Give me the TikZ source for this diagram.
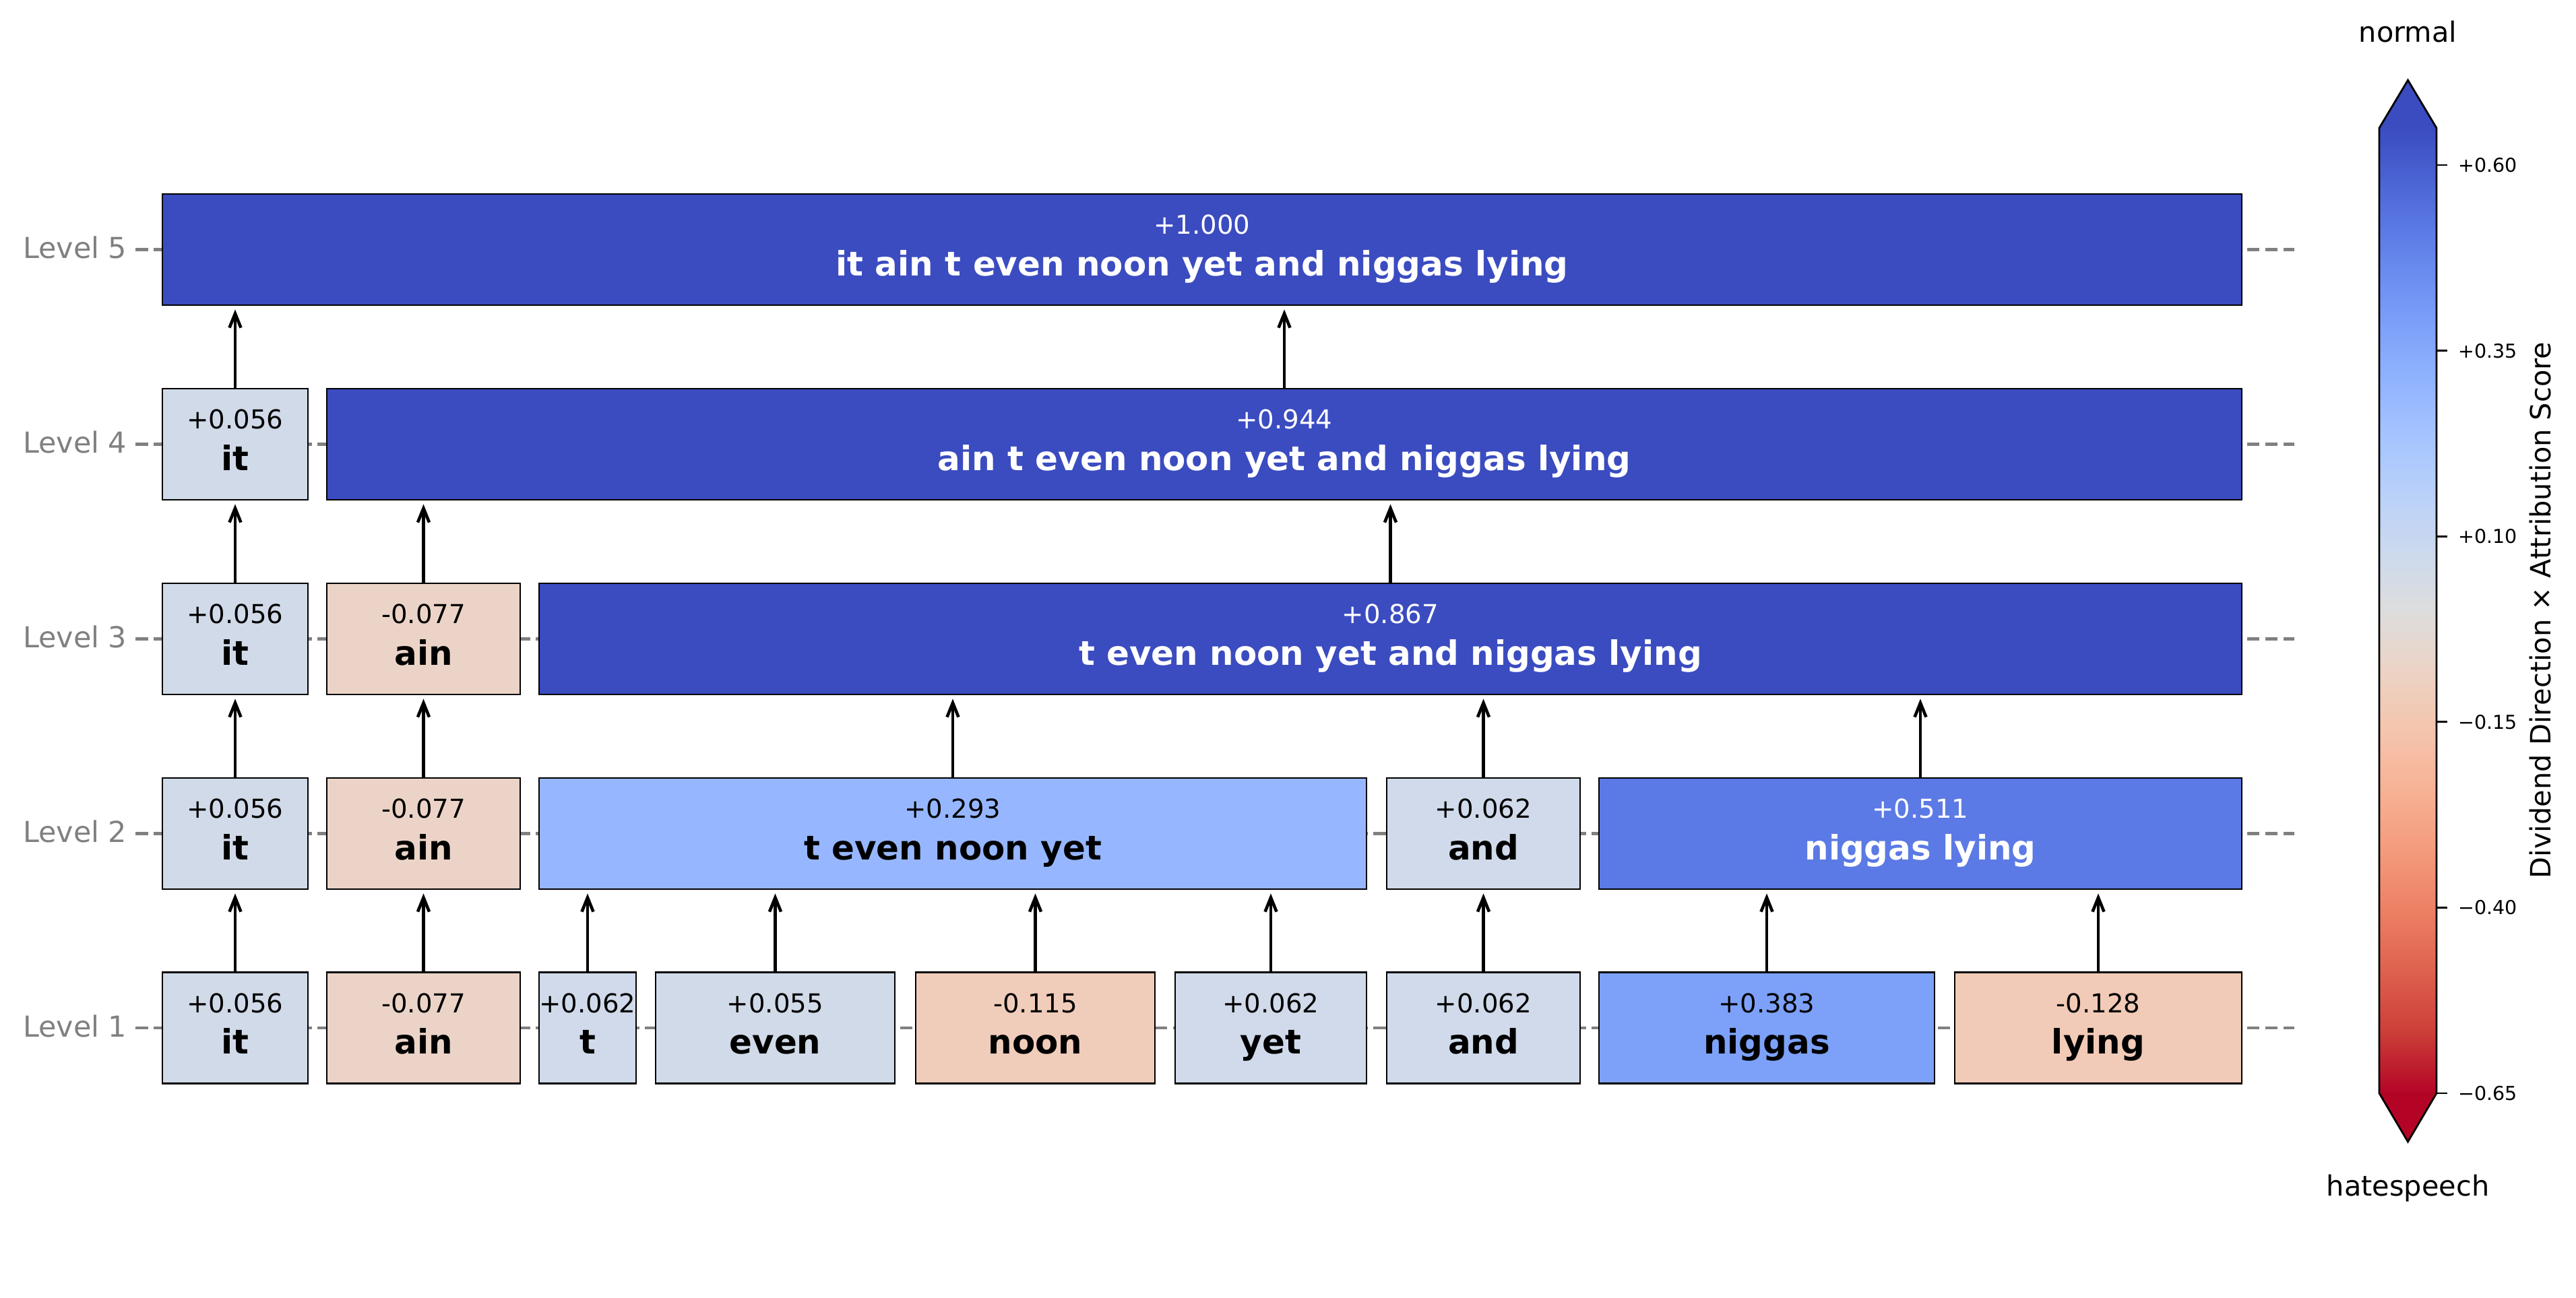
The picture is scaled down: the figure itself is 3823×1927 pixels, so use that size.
\documentclass[tikz,border=0pt]{standalone}
\usepackage{fontspec}
\setmainfont{DejaVu Sans}
\usetikzlibrary{arrows.meta}

% box colours
\definecolor{cdeep}{RGB}{59,76,192}
\definecolor{c511}{RGB}{92,122,229}
\definecolor{c383}{RGB}{125,161,249}
\definecolor{c293}{RGB}{150,183,255}
\definecolor{c056}{RGB}{209,218,233}
\definecolor{c062}{RGB}{208,218,234}
\definecolor{c055}{RGB}{209,218,232}
\definecolor{c077}{RGB}{235,212,199}
\definecolor{c115}{RGB}{240,205,187}
\definecolor{c128}{RGB}{241,203,183}
\definecolor{guidegray}{RGB}{128,128,128}

% colour bar stops
\definecolor{cw0}{RGB}{59,76,192}
\definecolor{cw1}{RGB}{77,104,215}
\definecolor{cw2}{RGB}{98,130,234}
\definecolor{cw3}{RGB}{119,154,247}
\definecolor{cw4}{RGB}{141,176,254}
\definecolor{cw5}{RGB}{163,194,255}
\definecolor{cw6}{RGB}{184,208,249}
\definecolor{cw7}{RGB}{204,217,238}
\definecolor{cw8}{RGB}{221,221,221}
\definecolor{cw9}{RGB}{236,211,197}
\definecolor{cw10}{RGB}{245,196,173}
\definecolor{cw11}{RGB}{247,177,148}
\definecolor{cw12}{RGB}{244,154,123}
\definecolor{cw13}{RGB}{236,127,99}
\definecolor{cw14}{RGB}{222,96,77}
\definecolor{cw15}{RGB}{203,62,56}
\definecolor{cw16}{RGB}{180,4,38}

\tikzset{
	tok/.style={draw=black, line width=0.028cm, inner sep=0pt, minimum height=1.65cm},
	score/.style={font=\fontsize{11}{13}\selectfont, inner sep=0pt},
	word/.style={font=\fontsize{14.2}{17}\selectfont\bfseries, inner sep=0pt},
	up/.style={line width=1.3pt, -{Straight Barb[length=0.21cm,width=0.17cm]}, shorten >=0.05cm},
	guide/.style={guidegray, line width=0.043cm, dash pattern=on 0.185cm off 0.085cm},
	lvl/.style={guidegray, font=\fontsize{12.2}{14}\selectfont, inner sep=0pt},
	tick/.style={font=\fontsize{8.1}{10}\selectfont, inner sep=0pt},
	cbl/.style={font=\fontsize{11.8}{14}\selectfont, inner sep=0pt}
}

% name, left, right, level y, fill, text colour, score, words
\newcommand{\tokbox}[8]{%
	\node[tok, fill=#5, minimum width={(#3-#2)*0.01cm}] (#1) at ({(#2+#3)/2},#4) {};
	\node[score, text=#6, anchor=base] (#1s) at ({(#2+#3)/2},#4-23) {#7};
	\node[word, text=#6, anchor=base] (#1w) at ({(#2+#3)/2},#4+38.5) {#8};
}

\begin{document}
\begin{tikzpicture}[x=0.01cm, y=-0.01cm]
	\useasboundingbox (0,0) rectangle (3823,1927);

	% draw level guides
	\foreach \l/\y in {1/1526,2/1237.5,3/948.5,4/659.5,5/370.5} {
		\draw[guide] (201,\y) -- (3405,\y);
		\node[lvl, anchor=base east] (lev\l) at (189,\y+13) {Level \l};
	}

	% level 1
	\tokbox{it1}{241}{457}{1526}{c056}{black}{+0.056}{it}
	\tokbox{ain1}{485}{772}{1526}{c077}{black}{-0.077}{ain}
	\tokbox{t1}{800}{944}{1526}{c062}{black}{+0.062}{t}
	\tokbox{even1}{973}{1328}{1526}{c055}{black}{+0.055}{even}
	\tokbox{noon1}{1359}{1714}{1526}{c115}{black}{-0.115}{noon}
	\tokbox{yet1}{1744}{2028}{1526}{c062}{black}{+0.062}{yet}
	\tokbox{and1}{2058}{2345}{1526}{c062}{black}{+0.062}{and}
	\tokbox{nig1}{2373}{2871}{1526}{c383}{black}{+0.383}{niggas}
	\tokbox{lying1}{2901}{3327}{1526}{c128}{black}{-0.128}{lying}

	% level 2
	\tokbox{it2}{241}{457}{1237.5}{c056}{black}{+0.056}{it}
	\tokbox{ain2}{485}{772}{1237.5}{c077}{black}{-0.077}{ain}
	\tokbox{tyet2}{800}{2028}{1237.5}{c293}{black}{+0.293}{t even noon yet}
	\tokbox{and2}{2058}{2345}{1237.5}{c062}{black}{+0.062}{and}
	\tokbox{nl2}{2373}{3327}{1237.5}{c511}{white}{+0.511}{niggas lying}

	% level 3
	\tokbox{it3}{241}{457}{948.5}{c056}{black}{+0.056}{it}
	\tokbox{ain3}{485}{772}{948.5}{c077}{black}{-0.077}{ain}
	\tokbox{rest3}{800}{3327}{948.5}{cdeep}{white}{+0.867}{t even noon yet and niggas lying}

	% level 4
	\tokbox{it4}{241}{457}{659.5}{c056}{black}{+0.056}{it}
	\tokbox{rest4}{485}{3327}{659.5}{cdeep}{white}{+0.944}{ain t even noon yet and niggas lying}

	% level 5
	\tokbox{all5}{241}{3327}{370.5}{cdeep}{white}{+1.000}{it ain t even noon yet and niggas lying}

	% draw merge arrows
	\foreach \a/\b in {it1/it2, ain1/ain2, t1/tyet2, even1/tyet2, noon1/tyet2, yet1/tyet2,
		and1/and2, nig1/nl2, lying1/nl2, it2/it3, ain2/ain3, tyet2/rest3, and2/rest3, nl2/rest3,
		it3/it4, ain3/rest4, rest3/rest4, it4/all5, rest4/all5} {
		\draw[up] (\a.north) -- (\a.north |- \b.south);
	}

	% draw colour bar
	\foreach \i [evaluate=\i as \j using int(\i+1)] in {0,...,15} {
		\shade[top color=cw\i, bottom color=cw\j] (3531,{190+\i*89.5625}) rectangle (3616,{190+\j*89.5625+1});
	}
	\fill[cw0] (3531,190) -- (3573.5,119) -- (3616,190) -- cycle;
	\fill[cw16] (3531,1623) -- (3573.5,1695) -- (3616,1623) -- cycle;
	\draw[line width=0.028cm] (3531,190) -- (3573.5,119) -- (3616,190) -- (3616,1623)
		-- (3573.5,1695) -- (3531,1623) -- cycle;

	% colour bar ticks
	\foreach \v/\lab [count=\k] in {0.60/+0.60, 0.35/+0.35, 0.10/+0.10, -0.15/−0.15, -0.40/−0.40, -0.65/−0.65} {
		\draw[line width=0.027cm] (3616,{190+(0.65-(\v))*1102.3}) -- (3632,{190+(0.65-(\v))*1102.3});
		\node[tick, anchor=west] (tk\k) at (3648,{190+(0.65-(\v))*1102.3}) {\lab};
	}

	% colour bar texts
	\node[cbl, anchor=base] (cbtop) at (3573.5,62) {normal};
	\node[cbl, anchor=base] (cbbot) at (3573.5,1775) {hatespeech};
	\node[cbl, rotate=90, anchor=base] (cblabel) at (3785,906) {Dividend Direction × Attribution Score};
\end{tikzpicture}
\end{document}
